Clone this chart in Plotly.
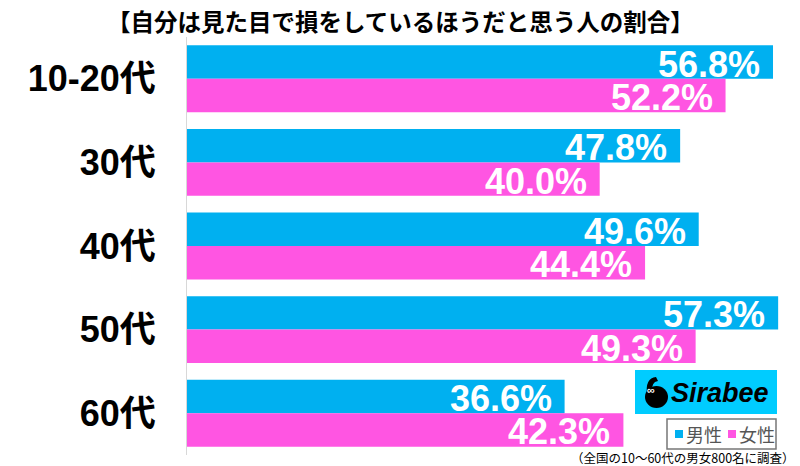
import plotly.graph_objects as go

categories = ["10-20代", "30代", "40代", "50代", "60代"]
male = [56.8, 47.8, 49.6, 57.3, 36.6]
female = [52.2, 40.0, 44.4, 49.3, 42.3]
series_names = ["男性", "女性"]

W, H = 800, 466
L, R, T, B = 187, 0, 37, 11
BLUE = "rgb(0,176,240)"
PINK = "rgb(255,85,226)"
FONT = "Liberation Sans, Arial, Noto Sans CJK JP, sans-serif"
JFONT = "Noto Sans CJK JP, sans-serif"

def px(x):
    return (x - L) / (W - L - R)

def py(y):
    return (H - B - y) / (H - T - B)

fig = go.Figure()
for name, vals, col in [(series_names[0], male, BLUE), (series_names[1], female, PINK)]:
    fig.add_trace(go.Bar(
        y=categories, x=vals, name=name, orientation="h",
        marker=dict(color=col, line=dict(width=0)), showlegend=False,
    ))

# value labels inside bar ends
half = 16.75
for vals, shift in [(male, half), (female, -half)]:
    for cat, v in zip(categories, vals):
        fig.add_annotation(x=v, y=cat, xref="x", yref="y", text=f"{v:.1f}%",
                           xanchor="right", yanchor="middle", xshift=-11, yshift=shift - 2,
                           showarrow=False,
                           font=dict(family=FONT, size=36, color="white", weight="bold"))

fig.update_layout(
    width=W, height=H, margin=dict(l=L, r=R, t=T, b=B),
    paper_bgcolor="white", plot_bgcolor="white",
    barmode="group", bargap=0.2, bargroupgap=0,
    xaxis=dict(range=[0, (W - L - R) / 10.317], visible=False, fixedrange=True),
    yaxis=dict(autorange="reversed", showline=True, linecolor="#d8d8d8", linewidth=1,
               showgrid=False, ticks="", ticklabelstandoff=23,
               tickfont=dict(family=FONT, size=36, color="black", weight="bold")),
    showlegend=False,
)

fig.add_annotation(text="【自分は見た目で損をしているほうだと思う人の割合】",
                   xref="paper", yref="paper", x=px(400), y=py(21), xanchor="center", yanchor="middle",
                   showarrow=False, font=dict(family=JFONT, size=23.5, color="black", weight="bold"))

fig.add_annotation(text="（全国の10〜60代の男女800名に調査）",
                   xref="paper", yref="paper", x=px(797), y=py(457.5), xanchor="right", yanchor="middle",
                   showarrow=False, font=dict(family=JFONT, size=12.5, color="black"))

# Legend (drawn manually)
fig.add_shape(type="rect", xref="paper", yref="paper", x0=px(667), x1=px(776), y0=py(449), y1=py(419),
              fillcolor="white", line=dict(color="#777", width=1.5), layer="above")
for name, col, sx, tx in [(series_names[0], BLUE, 675, 704), (series_names[1], PINK, 728, 757)]:
    fig.add_shape(type="rect", xref="paper", yref="paper", x0=px(sx), x1=px(sx + 8), y0=py(438), y1=py(430),
                  fillcolor=col, line=dict(width=0), layer="above")
    fig.add_annotation(text=name, xref="paper", yref="paper", x=px(tx), y=py(434), xanchor="center",
                       yanchor="middle", showarrow=False, font=dict(family=JFONT, size=18, color="#555"))

# Sirabee logo
fig.add_shape(type="rect", xref="paper", yref="paper", x0=px(635), x1=px(777), y0=py(414), y1=py(370),
              fillcolor="rgb(0,204,255)", line=dict(width=0), layer="above")
fig.add_shape(type="circle", xref="paper", yref="paper", x0=px(645), x1=px(668), y0=py(408), y1=py(386),
              fillcolor="black", line=dict(width=0), layer="above")
fig.add_shape(type="path", xref="paper", yref="paper",
              path=f"M {px(647)},{py(395)} Q {px(645)},{py(378)} {px(656)},{py(377)} L {px(658)},{py(381)} Q {px(651)},{py(382)} {px(652)},{py(392)} Z",
              fillcolor="black", line=dict(width=0), layer="above")
fig.add_annotation(text="∞", xref="paper", yref="paper", x=px(656.5), y=py(398), showarrow=False,
                   font=dict(family=FONT, size=11, color="white", weight="bold"))
fig.add_annotation(text="Sirabee", xref="paper", yref="paper", x=px(720), y=py(393),
                   xanchor="center", yanchor="middle", showarrow=False,
                   font=dict(family=FONT, size=27, color="black", weight="bold", style="italic"))

fig.write_html("out.html")
